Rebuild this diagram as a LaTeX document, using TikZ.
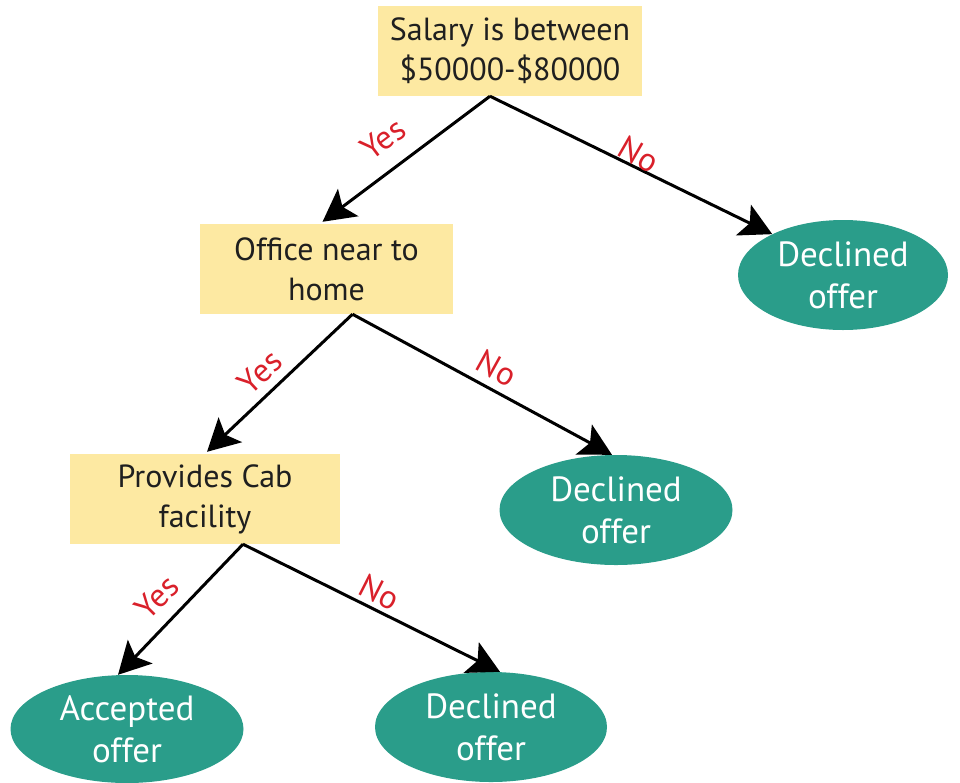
\documentclass[tikz,border=0pt]{standalone}
\usepackage{fontspec}
\setmainfont{PT Sans}
\usetikzlibrary{shapes.geometric,arrows.meta,calc}
\definecolor{boxyellow}{HTML}{FDE9A2}
\definecolor{leafteal}{HTML}{2A9D8A}
\definecolor{labred}{HTML}{D9202A}
\begin{document}
\begin{tikzpicture}[x=1pt,y=-1pt,
  decision/.style={fill=boxyellow,draw=none,align=center,inner sep=0pt,
    font=\fontsize{32}{40}\selectfont,text=black!88},
  leaf/.style={ellipse,fill=leafteal,draw=none,align=center,inner sep=0pt,
    font=\fontsize{35}{42}\selectfont,text=white},
  edge/.style={line width=3pt,-{Stealth[length=32pt,width=34pt,inset=7pt]}},
  lab/.style={text=labred,font=\fontsize{33}{36}\selectfont,inner sep=0pt}]
\useasboundingbox (0,0) rectangle (960,782);
\node[decision,minimum width=264,minimum height=90] (root) at (510,51) {Salary is between\\\$50000-\$80000};
\node[decision,minimum width=253,minimum height=90] (office) at (326.5,269) {Office near to\\home};
\node[decision,minimum width=270,minimum height=90] (cab) at (205,499) {Provides Cab\\facility};
\node[leaf,minimum width=210,minimum height=110] (d1) at (843,275) {Declined\\offer};
\node[leaf,minimum width=233,minimum height=110] (d2) at (616,510) {Declined\\offer};
\node[leaf,minimum width=233,minimum height=108] (acc) at (127,729) {Accepted\\offer};
\node[leaf,minimum width=232,minimum height=110] (d3) at (491,727) {Declined\\offer};
\coordinate (r0) at ($(root.south)+(-20,0)$);
\coordinate (o0) at ($(office.south)+(26,0)$);
\coordinate (c0) at ($(cab.south)+(38,0)$);
\draw[edge] (r0) -- ($(office.north)+(-4,-2)$);
\draw[edge] (r0) -- (d1.150);
\draw[edge] (o0) -- ($(cab.north)+(2,-2)$);
\draw[edge] (o0) -- ($(d2.north)+(-4,0)$);
\draw[edge] (c0) -- ($(acc.north)+(-9,0)$);
\draw[edge] (c0) -- ($(d3.north)+(9,0)$);
\node[lab,rotate=37] (l1) at (383,139) {Yes};
\node[lab,rotate=-30] (l2) at (639,154) {No};
\node[lab,rotate=43] (l3) at (260,372) {Yes};
\node[lab,rotate=-29] (l4) at (497,368) {No};
\node[lab,rotate=45] (l5) at (157,597) {Yes};
\node[lab,rotate=-27] (l6) at (380,592) {No};
\end{tikzpicture}
\end{document}
